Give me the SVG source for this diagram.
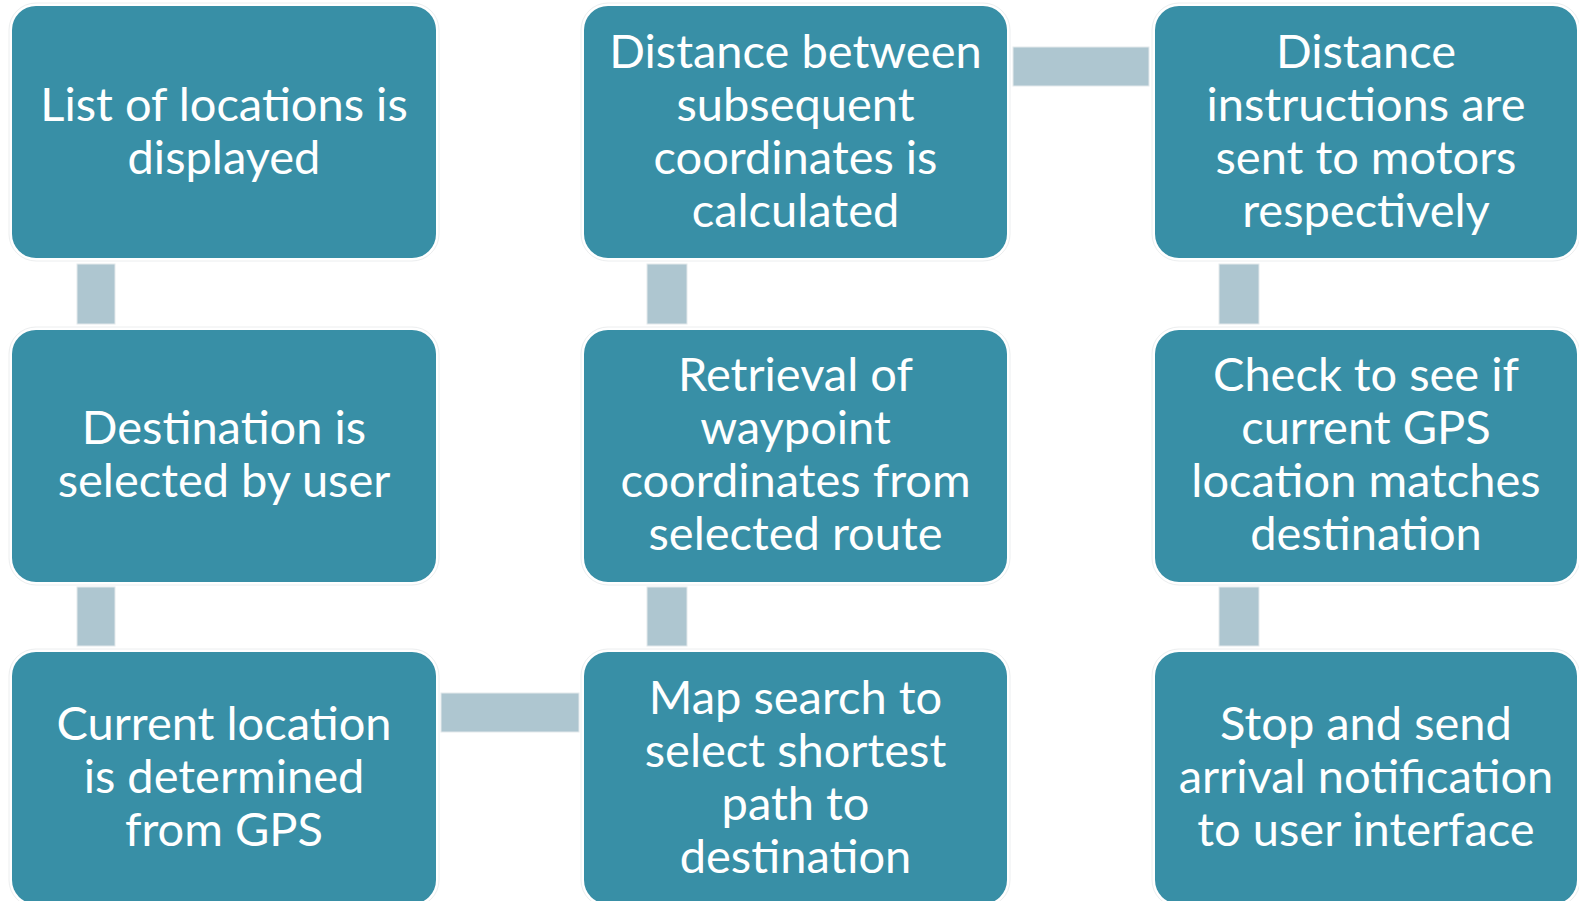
<svg xmlns="http://www.w3.org/2000/svg" width="1579" height="901" viewBox="0 0 1579 901">
<style>
.halo{fill:#ffffff;stroke:#eceeef;stroke-width:1}
.box{fill:#388FA6}
.conn{fill:#AEC6D0;stroke:#e3e9ec;stroke-width:1}
text{font-family:Lato,"Liberation Sans",sans-serif;font-size:47px;fill:#ffffff;text-anchor:middle}
</style>
<rect width="1579" height="901" fill="#ffffff"/>
<g id="connectors">
<rect class="conn" x="77" y="264" width="38" height="60"/>
<rect class="conn" x="77" y="587" width="38" height="59"/>
<rect class="conn" x="441" y="693" width="138" height="39"/>
<rect class="conn" x="647" y="587" width="40" height="59"/>
<rect class="conn" x="647" y="264" width="40" height="60"/>
<rect class="conn" x="1013" y="47" width="136" height="39"/>
<rect class="conn" x="1219" y="264" width="40" height="60"/>
<rect class="conn" x="1219" y="587" width="40" height="59"/>
</g>
<g id="n1">
<rect class="halo" x="9" y="3" width="430" height="258" rx="27"/>
<rect class="box" x="12" y="6" width="424" height="252" rx="24"/>
<text x="224" y="121">List of locations is</text>
<text x="224" y="174">displayed</text>
</g>
<g id="n2">
<rect class="halo" x="9" y="327" width="430" height="258" rx="27"/>
<rect class="box" x="12" y="330" width="424" height="252" rx="24"/>
<text x="224" y="444">Destination is</text>
<text x="224" y="497">selected by user</text>
</g>
<g id="n3">
<rect class="halo" x="9" y="649" width="430" height="258" rx="27"/>
<rect class="box" x="12" y="652" width="424" height="252" rx="24"/>
<text x="224" y="740">Current location</text>
<text x="224" y="793">is determined</text>
<text x="224" y="846">from GPS</text>
</g>
<g id="n4">
<rect class="halo" x="581" y="649" width="429" height="258" rx="27"/>
<rect class="box" x="584" y="652" width="423" height="252" rx="24"/>
<text x="795.5" y="714">Map search to</text>
<text x="795.5" y="767">select shortest</text>
<text x="795.5" y="820">path to</text>
<text x="795.5" y="873">destination</text>
</g>
<g id="n5">
<rect class="halo" x="581" y="327" width="429" height="258" rx="27"/>
<rect class="box" x="584" y="330" width="423" height="252" rx="24"/>
<text x="795.5" y="391">Retrieval of</text>
<text x="795.5" y="444">waypoint</text>
<text x="795.5" y="497">coordinates from</text>
<text x="795.5" y="550">selected route</text>
</g>
<g id="n6">
<rect class="halo" x="581" y="3" width="429" height="258" rx="27"/>
<rect class="box" x="584" y="6" width="423" height="252" rx="24"/>
<text x="795.5" y="68">Distance between</text>
<text x="795.5" y="121">subsequent</text>
<text x="795.5" y="174">coordinates is</text>
<text x="795.5" y="227">calculated</text>
</g>
<g id="n7">
<rect class="halo" x="1152" y="3" width="428" height="258" rx="27"/>
<rect class="box" x="1155" y="6" width="422" height="252" rx="24"/>
<text x="1366" y="68">Distance</text>
<text x="1366" y="121">instructions are</text>
<text x="1366" y="174">sent to motors</text>
<text x="1366" y="227">respectively</text>
</g>
<g id="n8">
<rect class="halo" x="1152" y="327" width="428" height="258" rx="27"/>
<rect class="box" x="1155" y="330" width="422" height="252" rx="24"/>
<text x="1366" y="391">Check to see if</text>
<text x="1366" y="444">current GPS</text>
<text x="1366" y="497">location matches</text>
<text x="1366" y="550">destination</text>
</g>
<g id="n9">
<rect class="halo" x="1152" y="649" width="428" height="258" rx="27"/>
<rect class="box" x="1155" y="652" width="422" height="252" rx="24"/>
<text x="1366" y="740">Stop and send</text>
<text x="1366" y="793">arrival notification</text>
<text x="1366" y="846">to user interface</text>
</g>
</svg>
